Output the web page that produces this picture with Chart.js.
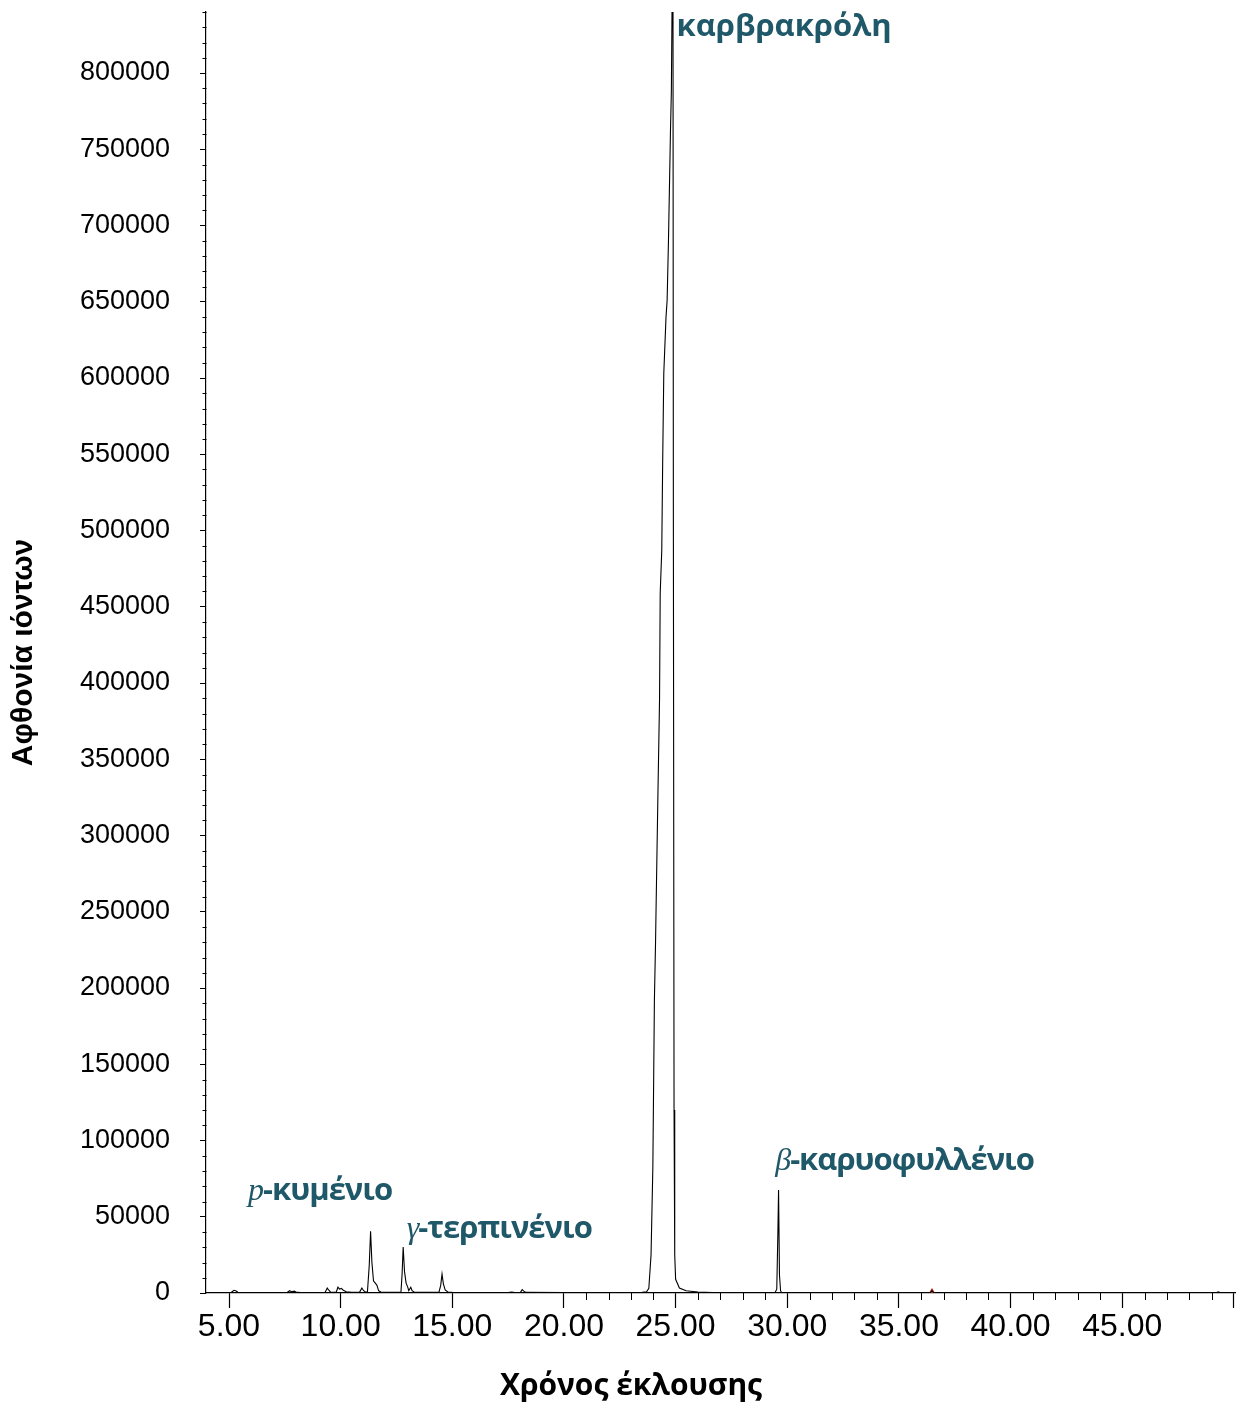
<!DOCTYPE html>
<html>
<head>
<meta charset="utf-8">
<script src="https://cdn.jsdelivr.net/npm/chart.js@4.4.1/dist/chart.umd.min.js"></script>
<style>
  html, body { margin: 0; padding: 0; background: #ffffff; }
  canvas { display: block; }
</style>
</head>
<body>
<canvas id="tic" width="1241" height="1405"></canvas>
<script>
// Total ion chromatogram: retention time (min) vs ion abundance
const traceTime = [
  4.00, 5.10, 5.22, 5.30, 5.40, 5.60, 7.60, 7.72, 7.80, 7.92, 8.00, 8.20,
  9.30, 9.40, 9.47, 9.55, 9.80, 9.88, 9.95, 10.03, 10.12, 10.25, 10.50,
  10.85, 10.95, 11.03, 11.12, 11.20, 11.28, 11.34, 11.40, 11.47, 11.55, 11.62, 11.70, 11.80,
  12.50, 12.70, 12.75, 12.80, 12.86, 12.93, 13.00, 13.05, 13.14, 13.20, 13.30,
  14.40, 14.48, 14.54, 14.60, 14.68, 14.80, 15.00,
  17.50, 17.66, 17.80, 18.05, 18.13, 18.20, 18.30, 20.00,
  23.50, 23.70, 23.80, 23.90, 23.98, 24.05, 24.10, 24.13, 24.20, 24.28, 24.31, 24.38,
  24.42, 24.47, 24.57, 24.62, 24.68, 24.77, 24.81, 24.86, 24.88, 24.90, 24.93, 24.96,
  25.00, 25.17, 25.47, 26.00, 27.00,
  29.45, 29.53, 29.58, 29.61, 29.65, 29.70, 29.75,
  36.40, 36.48, 36.56, 49.20, 49.30, 49.40, 50.05
];
const traceAbundance = [
  300, 300, 1800, 1500, 500, 300, 300, 1500, 800, 1200, 600, 300,
  300, 3200, 1800, 600, 500, 3800, 2500, 3000, 1800, 800, 500,
  600, 3300, 1500, 600, 800, 18000, 40500, 20000, 8000, 6500, 5200, 1500, 600,
  400, 500, 12000, 30200, 14000, 6500, 4000, 1500, 3800, 1500, 500,
  400, 5000, 12400, 6000, 2000, 700, 400,
  300, 600, 300, 400, 2200, 1200, 400, 300,
  400, 800, 3000, 25000, 82000, 192000, 229000, 257000, 320000, 389000, 459000, 487000,
  544000, 603000, 640000, 651000, 690000, 762000, 788000, 880000, 900000, 500000, 120000, 25000,
  9000, 3300, 1500, 700, 200,
  200, 2500, 40000, 67500, 12000, 1500, 200,
  100, 1500, 100, 100, 700, 100, 100
];

// Small flagged event on the baseline
const markerTime = [36.48];
const markerAbundance = [900];

// Axis ticks
const xMajorTicks = [5, 10, 15, 20, 25, 30, 35, 40, 45, 50];
const xMinorTicks = [21, 22, 23, 24, 26, 27, 28, 29, 31, 32, 33, 34, 36, 37, 38, 39, 41, 42, 43, 44, 46, 47, 48, 49];
const yMajorTicks = [0, 50000, 100000, 150000, 200000, 250000, 300000, 350000, 400000,
  450000, 500000, 550000, 600000, 650000, 700000, 750000, 800000];

// Compound labels: italic prefix, name, anchor (time, abundance)
const peakPrefix = ['', 'p', 'γ', 'β'];
const peakName = ['καρβρακρόλη', '-κυμένιο', '-τερπινένιο', '-καρυοφυλλένιο'];
const peakLabelTime = [25.04, 5.85, 12.96, 29.46];
const peakLabelAbundance = [824000, 61000, 36000, 80600];

const xTitle = 'Χρόνος έκλουσης';
const yTitle = 'Αφθονία ιόντων';

const SANS = '"Liberation Sans", Arial, sans-serif';
const LABEL_SANS = '"Open Sans", "Noto Sans", sans-serif';
const SERIF = '"Liberation Serif", "Times New Roman", serif';
const LABEL_COLOR = '#1f5868';

const yMinorTicks = [];
for (let v = 10000; v <= 840000; v += 10000) {
  if (v % 50000 !== 0) yMinorTicks.push(v);
}

const tracePoints = traceTime.map((t, i) => ({ x: t, y: traceAbundance[i] }));
const markerPoints = markerTime.map((t, i) => ({ x: t, y: markerAbundance[i] }));

// Minor tick marks on both axes
const minorTicks = {
  id: 'minorTicks',
  afterDraw(chart) {
    const { ctx, scales: { x, y } } = chart;
    ctx.save();
    ctx.strokeStyle = '#000';
    ctx.lineWidth = 1;
    ctx.beginPath();
    const ax = Math.round(x.left) + 0.5;
    yMinorTicks.forEach(v => {
      const py = Math.round(y.getPixelForValue(v)) + 0.5;
      ctx.moveTo(ax - 4, py);
      ctx.lineTo(ax, py);
    });
    const by = Math.round(y.bottom);
    xMinorTicks.forEach(t => {
      const px = Math.round(x.getPixelForValue(t)) + 0.5;
      ctx.moveTo(px, by);
      ctx.lineTo(px, by + 7);
    });
    ctx.stroke();
    ctx.restore();
  }
};

// Compound names and axis titles
const annotations = {
  id: 'annotations',
  afterDraw(chart) {
    const { ctx, scales: { x, y }, chartArea } = chart;
    ctx.save();
    ctx.textBaseline = 'alphabetic';
    ctx.textAlign = 'left';
    peakName.forEach((name, i) => {
      let px = x.getPixelForValue(peakLabelTime[i]);
      const py = y.getPixelForValue(peakLabelAbundance[i]);
      ctx.fillStyle = LABEL_COLOR;
      ctx.letterSpacing = '0px';
      if (peakPrefix[i]) {
        ctx.font = 'italic 32px ' + SERIF;
        ctx.fillText(peakPrefix[i], px, py);
        px += ctx.measureText(peakPrefix[i]).width - 1;
        ctx.letterSpacing = '-1px';
      }
      ctx.font = 'bold 31px ' + LABEL_SANS;
      ctx.fillText(name, px, py);
    });
    ctx.letterSpacing = '0px';

    // x-axis title
    ctx.fillStyle = '#000';
    ctx.font = 'bold 30px ' + LABEL_SANS;
    ctx.textAlign = 'center';
    ctx.fillText(xTitle, chartArea.left + (chartArea.right - chartArea.left) * 0.413, 1395);

    // y-axis title
    ctx.save();
    ctx.translate(32, (chartArea.top + chartArea.bottom) / 2);
    ctx.rotate(-Math.PI / 2);
    ctx.font = 'bold 30px ' + SANS;
    ctx.textAlign = 'center';
    ctx.fillText(yTitle, 0, 0);
    ctx.restore();
    ctx.restore();
  }
};

new Chart(document.getElementById('tic'), {
  type: 'line',
  data: {
    datasets: [
      {
        data: tracePoints,
        borderColor: '#000',
        borderWidth: 1.1,
        pointRadius: 0,
        tension: 0,
        fill: false
      },
      {
        data: markerPoints,
        showLine: false,
        pointStyle: 'triangle',
        pointRadius: 3,
        backgroundColor: '#c0392b',
        borderColor: '#c0392b',
        borderWidth: 1
      }
    ]
  },
  options: {
    responsive: false,
    animation: false,
    devicePixelRatio: 1,
    layout: { padding: { top: 12, right: 6, left: 0, bottom: 0 } },
    plugins: { legend: { display: false }, tooltip: { enabled: false } },
    scales: {
      x: {
        type: 'linear',
        min: 3.97,
        max: 50.05,
        afterBuildTicks: s => { s.ticks = xMajorTicks.map(v => ({ value: v })); },
        afterFit: s => { s.height = 112; s.paddingLeft = 0; s.paddingRight = 0; },
        ticks: {
          autoSkip: false,
          maxRotation: 0,
          padding: 0,
          color: '#000',
          font: { family: SANS, size: 32 },
          callback: v => (v < 50 ? Number(v).toFixed(2) : '')
        },
        grid: { drawOnChartArea: false, drawTicks: true, tickLength: 15, tickColor: '#000', tickWidth: 1.2 },
        border: { display: true, color: '#000', width: 1.2 }
      },
      y: {
        type: 'linear',
        min: 0,
        max: 840000,
        afterBuildTicks: s => { s.ticks = yMajorTicks.map(v => ({ value: v })); },
        afterFit: s => { s.width = 206; s.paddingTop = 0; s.paddingBottom = 0; },
        ticks: {
          autoSkip: false,
          padding: 30,
          color: '#000',
          font: { family: SANS, size: 27 },
          callback: v => String(v)
        },
        grid: { drawOnChartArea: false, drawTicks: true, tickLength: 6, tickColor: '#000', tickWidth: 1 },
        border: { display: true, color: '#000', width: 1.2 }
      }
    }
  },
  plugins: [minorTicks, annotations]
});
</script>
</body>
</html>
